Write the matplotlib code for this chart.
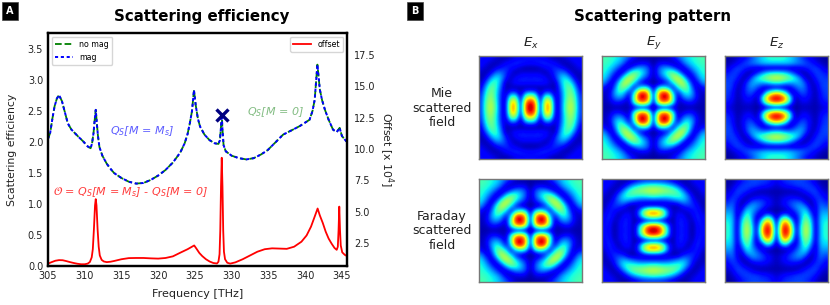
import numpy as np
import matplotlib
matplotlib.use("Agg")
import matplotlib.pyplot as plt

W, H = 830, 305
scat_x = [305,305.3,305.6,305.9,306.2,306.5,306.9,307.3,307.7,308.2,309.1,309.8,310.4,310.8,311,311.2,311.35,311.5,311.65,311.8,312,312.4,313,313.5,314,315,316,317,318,319,320,321,322,323,323.6,324,324.3,324.6,324.87,325.1,325.4,325.7,326.3,327,327.7,328.2,328.4,328.55,328.65,328.75,328.9,329.2,330,331,332,333,334,334.9,336,337,338,339.3,340.6,341,341.3,341.67,342,342.3,342.7,343.2,343.8,344.3,344.7,345,345.4,345.7]
scat_y = [2.05,2.15,2.38,2.58,2.7,2.76,2.66,2.48,2.3,2.2,2.09,2.01,1.93,1.9,1.98,2.15,2.35,2.52,2.3,2.1,1.92,1.78,1.65,1.57,1.5,1.42,1.36,1.33,1.34,1.39,1.46,1.55,1.67,1.83,1.98,2.13,2.3,2.5,2.84,2.6,2.38,2.25,2.12,2.03,1.98,1.97,2.03,2.25,2.44,2.2,1.95,1.85,1.78,1.74,1.72,1.74,1.8,1.87,2.0,2.12,2.18,2.26,2.36,2.5,2.68,3.25,2.85,2.68,2.52,2.36,2.2,2.16,2.23,2.1,2.04,2.0]
off_x = [305,305.5,306,306.5,307,307.5,308,308.5,309,309.5,310,310.4,310.7,310.95,311.1,311.25,311.4,311.5,311.6,311.75,311.9,312.05,312.3,312.6,313,313.5,314,315,316,317,318,319,320,321,322,323,324,324.6,324.9,325.2,325.6,326,326.5,327,327.5,328,328.2,328.35,328.45,328.55,328.65,328.75,328.85,328.95,329.1,329.4,329.8,330.5,331.5,332.5,333.5,334.5,335.5,336.5,337.5,338.5,339.5,340.2,340.8,341.3,341.7,342,342.4,342.8,343.2,343.6,344,344.3,344.45,344.55,344.65,344.75,344.85,345.05,345.4,345.7]
off_y = [.85,.97,1.08,1.13,1.12,1.05,.97,.9,.84,.8,.8,.85,.98,1.35,2.0,3.6,5.5,6.0,5.5,3.6,2.2,1.5,1.15,1.02,.97,1.0,1.06,1.2,1.29,1.3,1.3,1.27,1.25,1.3,1.43,1.72,2.0,2.2,2.3,2.05,1.7,1.45,1.2,1.02,.9,.86,1.0,1.6,3.5,7,9.3,7,3.5,1.8,1.2,.92,.85,.95,1.2,1.5,1.8,2.0,2.07,2.05,2.03,2.2,2.6,3.1,3.8,4.6,5.25,4.7,4.1,3.4,2.85,2.45,2.1,1.95,2.2,3.5,5.4,3.5,2.3,1.75,1.55,1.45]
marker_x = [328.65]
marker_y = [2.44]
col_titles = ["$E_x$", "$E_y$", "$E_z$"]
row_titles = ["Mie\nscattered\nfield", "Faraday\nscattered\nfield"]

# quadrants of the field magnitudes: centre outward
field_a = np.array([
[1.0,.85,.04,.74,.74,.08,.13,.42,.6,.5,.18],
[.95,.8,.05,.7,.7,.08,.13,.4,.58,.48,.18],
[.7,.55,.04,.5,.5,.07,.14,.38,.55,.45,.17],
[.3,.25,.04,.2,.2,.05,.16,.38,.52,.4,.14],
[.03,.03,.04,.04,.05,.04,.2,.4,.5,.33,.1],
[.13,.14,.14,.13,.09,.04,.25,.42,.42,.22,.06],
[.15,.15,.15,.13,.05,.14,.3,.38,.28,.1,.04],
[.1,.1,.09,.04,.09,.17,.25,.25,.12,.04,.06],
[.03,.03,.05,.1,.13,.17,.15,.1,.04,.06,.1],
[.13,.14,.16,.17,.15,.12,.07,.04,.06,.1,.13],
[.13,.13,.12,.1,.07,.05,.05,.08,.11,.13,.13]])
field_b = np.array([
[.02,.03,.05,.06,.06,.05,.04,.04,.04,.04,.04],
[.03,.62,.8,.72,.38,.05,.08,.13,.13,.06,.05],
[.05,.8,.97,.93,.45,.06,.2,.28,.22,.1,.05],
[.06,.72,.93,.85,.3,.12,.33,.4,.27,.08,.07],
[.05,.35,.42,.3,.1,.35,.5,.45,.2,.05,.12],
[.03,.03,.08,.15,.35,.55,.6,.38,.1,.1,.27],
[.04,.14,.22,.35,.55,.62,.45,.15,.06,.22,.35],
[.04,.2,.33,.45,.52,.38,.14,.05,.17,.3,.38],
[.04,.2,.28,.3,.22,.1,.05,.17,.28,.35,.4],
[.03,.1,.12,.09,.05,.06,.2,.3,.35,.4,.42],
[.03,.04,.04,.06,.11,.2,.28,.35,.38,.42,.44]])
field_c = np.array([
[.02,.02,.02,.03,.03,.05,.05,.05,.04,.07,.09],
[.82,.75,.55,.22,.03,.09,.1,.07,.04,.1,.14],
[.97,.92,.72,.3,.04,.13,.14,.09,.04,.13,.17],
[.68,.58,.35,.06,.1,.2,.18,.1,.04,.14,.18],
[.05,.04,.04,.1,.2,.26,.2,.08,.05,.17,.19],
[.38,.36,.3,.28,.3,.3,.18,.05,.09,.18,.19],
[.62,.6,.54,.46,.37,.22,.06,.05,.15,.19,.17],
[.42,.4,.35,.25,.14,.05,.04,.12,.18,.18,.14],
[.04,.04,.05,.05,.07,.1,.14,.18,.19,.14,.08],
[.33,.33,.33,.31,.27,.24,.2,.16,.11,.07,.04],
[.4,.4,.37,.33,.27,.2,.14,.1,.07,.04,.03]])

def mirror(q):
    top = np.hstack([q[:, :0:-1], q])
    return np.vstack([top[:0:-1], top])

def box(x0, y0, x1, y1):
    return [x0 / W, 1 - y1 / H, (x1 - x0) / W, (y1 - y0) / H]

fig = plt.figure(figsize=(W / 100, H / 100), dpi=100)
ax = fig.add_axes(box(48, 33, 347, 266))
ax.plot(scat_x, scat_y, color="green", ls="--", lw=1.3, label="no mag")
ax.plot(scat_x, scat_y, color="blue", ls=(0, (1.6, 1.4)), lw=1.4, label="mag")
ax.plot(marker_x, marker_y, "x", color="navy", ms=8, mew=2.4)
ax.set_xlim(305, 345.7)
ax.set_ylim(0, 3.76)
ax.set_xticks(range(305, 346, 5))
ax.set_yticks(np.arange(0, 3.6, 0.5))
ax.tick_params(length=0, labelsize=7, pad=3.5, colors="#222222")
ax.set_xlabel("Frequency [THz]", fontsize=8, labelpad=6, color="#222222")
ax.set_ylabel("Scattering efficiency", fontsize=7.8, labelpad=8, color="#222222")
ax.legend(loc="upper left", fontsize=5.7, borderaxespad=0.45, handlelength=2.3)
ax2 = ax.twinx()
ax2.plot(off_x, off_y, color="red", lw=1.3, label="offset")
ax2.set_ylim(0.66, 19.26)
ax2.set_yticks(np.arange(2.5, 18, 2.5))
ax2.tick_params(length=0, labelsize=7, pad=5, colors="#222222")
ax2.set_ylabel("Offset [x 10$^4$]", fontsize=7.8, rotation=270, labelpad=14, color="#222222")
ax2.legend(loc="upper right", fontsize=5.7, borderaxespad=0.45, handlelength=2.3)
for a in (ax, ax2):
    for s in a.spines.values():
        s.set_linewidth(1.6)
        s.set_color("black")

fig.text(202 / W, 1 - 17 / H, "Scattering efficiency", fontsize=10.8, fontweight="bold", ha="center", va="center")
fig.text(652 / W, 1 - 17 / H, "Scattering pattern", fontsize=10.8, fontweight="bold", ha="center", va="center")

plt.rcParams["mathtext.default"] = "it"
def note(x, y, s, color):
    fig.text(x / W, 1 - y / H, s, fontsize=8, style="italic", color=color, ha="left", va="center")
note(110, 131, r"$Q_S$[M = M$_s$]", (0.2, 0.2, 1, 0.8))
note(247, 112, r"$Q_S$[M = 0]", (0.35, 0.65, 0.35, 0.75))
note(53, 192, r"$\mathcal{O}$ = $Q_S$[M = M$_s$] - $Q_S$[M = 0]", (1, 0.1, 0.1, 0.85))

for label, x in (("A", 10), ("B", 415)):
    fig.text(x / W, 1 - 11 / H, label, color="white", fontsize=7, fontweight="bold", ha="center", va="center",
             bbox=dict(boxstyle="square,pad=0.45", fc="black", ec="#444444", lw=0.5))

rows_y = [(56.5, 159), (179, 282)]
cols_x = [(479, 582), (602, 705), (725, 828)]
fields = [[field_a, field_b, field_c], [field_b, field_a.T, field_c.T]]
for r, (y0, y1) in enumerate(rows_y):
    for c, (x0, x1) in enumerate(cols_x):
        a = fig.add_axes(box(x0, y0, x1, y1))
        a.imshow(mirror(fields[r][c]), cmap="jet", vmin=0, vmax=1, interpolation="bicubic", aspect="auto")
        a.set_xticks([]); a.set_yticks([])
        for s in a.spines.values():
            s.set_color("#777777")
            s.set_linewidth(1.0)
        if r == 0:
            fig.text((x0 + x1) / 2 / W, 1 - 43 / H, col_titles[c], fontsize=9.5, ha="center", va="center", color="#222222")
    fig.text(442 / W, 1 - ((y0 + y1) / 2 + 0.5) / H, row_titles[r], fontsize=9, ha="center", va="center", linespacing=1.15, color="#222222")

fig.savefig("out.png", dpi=100)
